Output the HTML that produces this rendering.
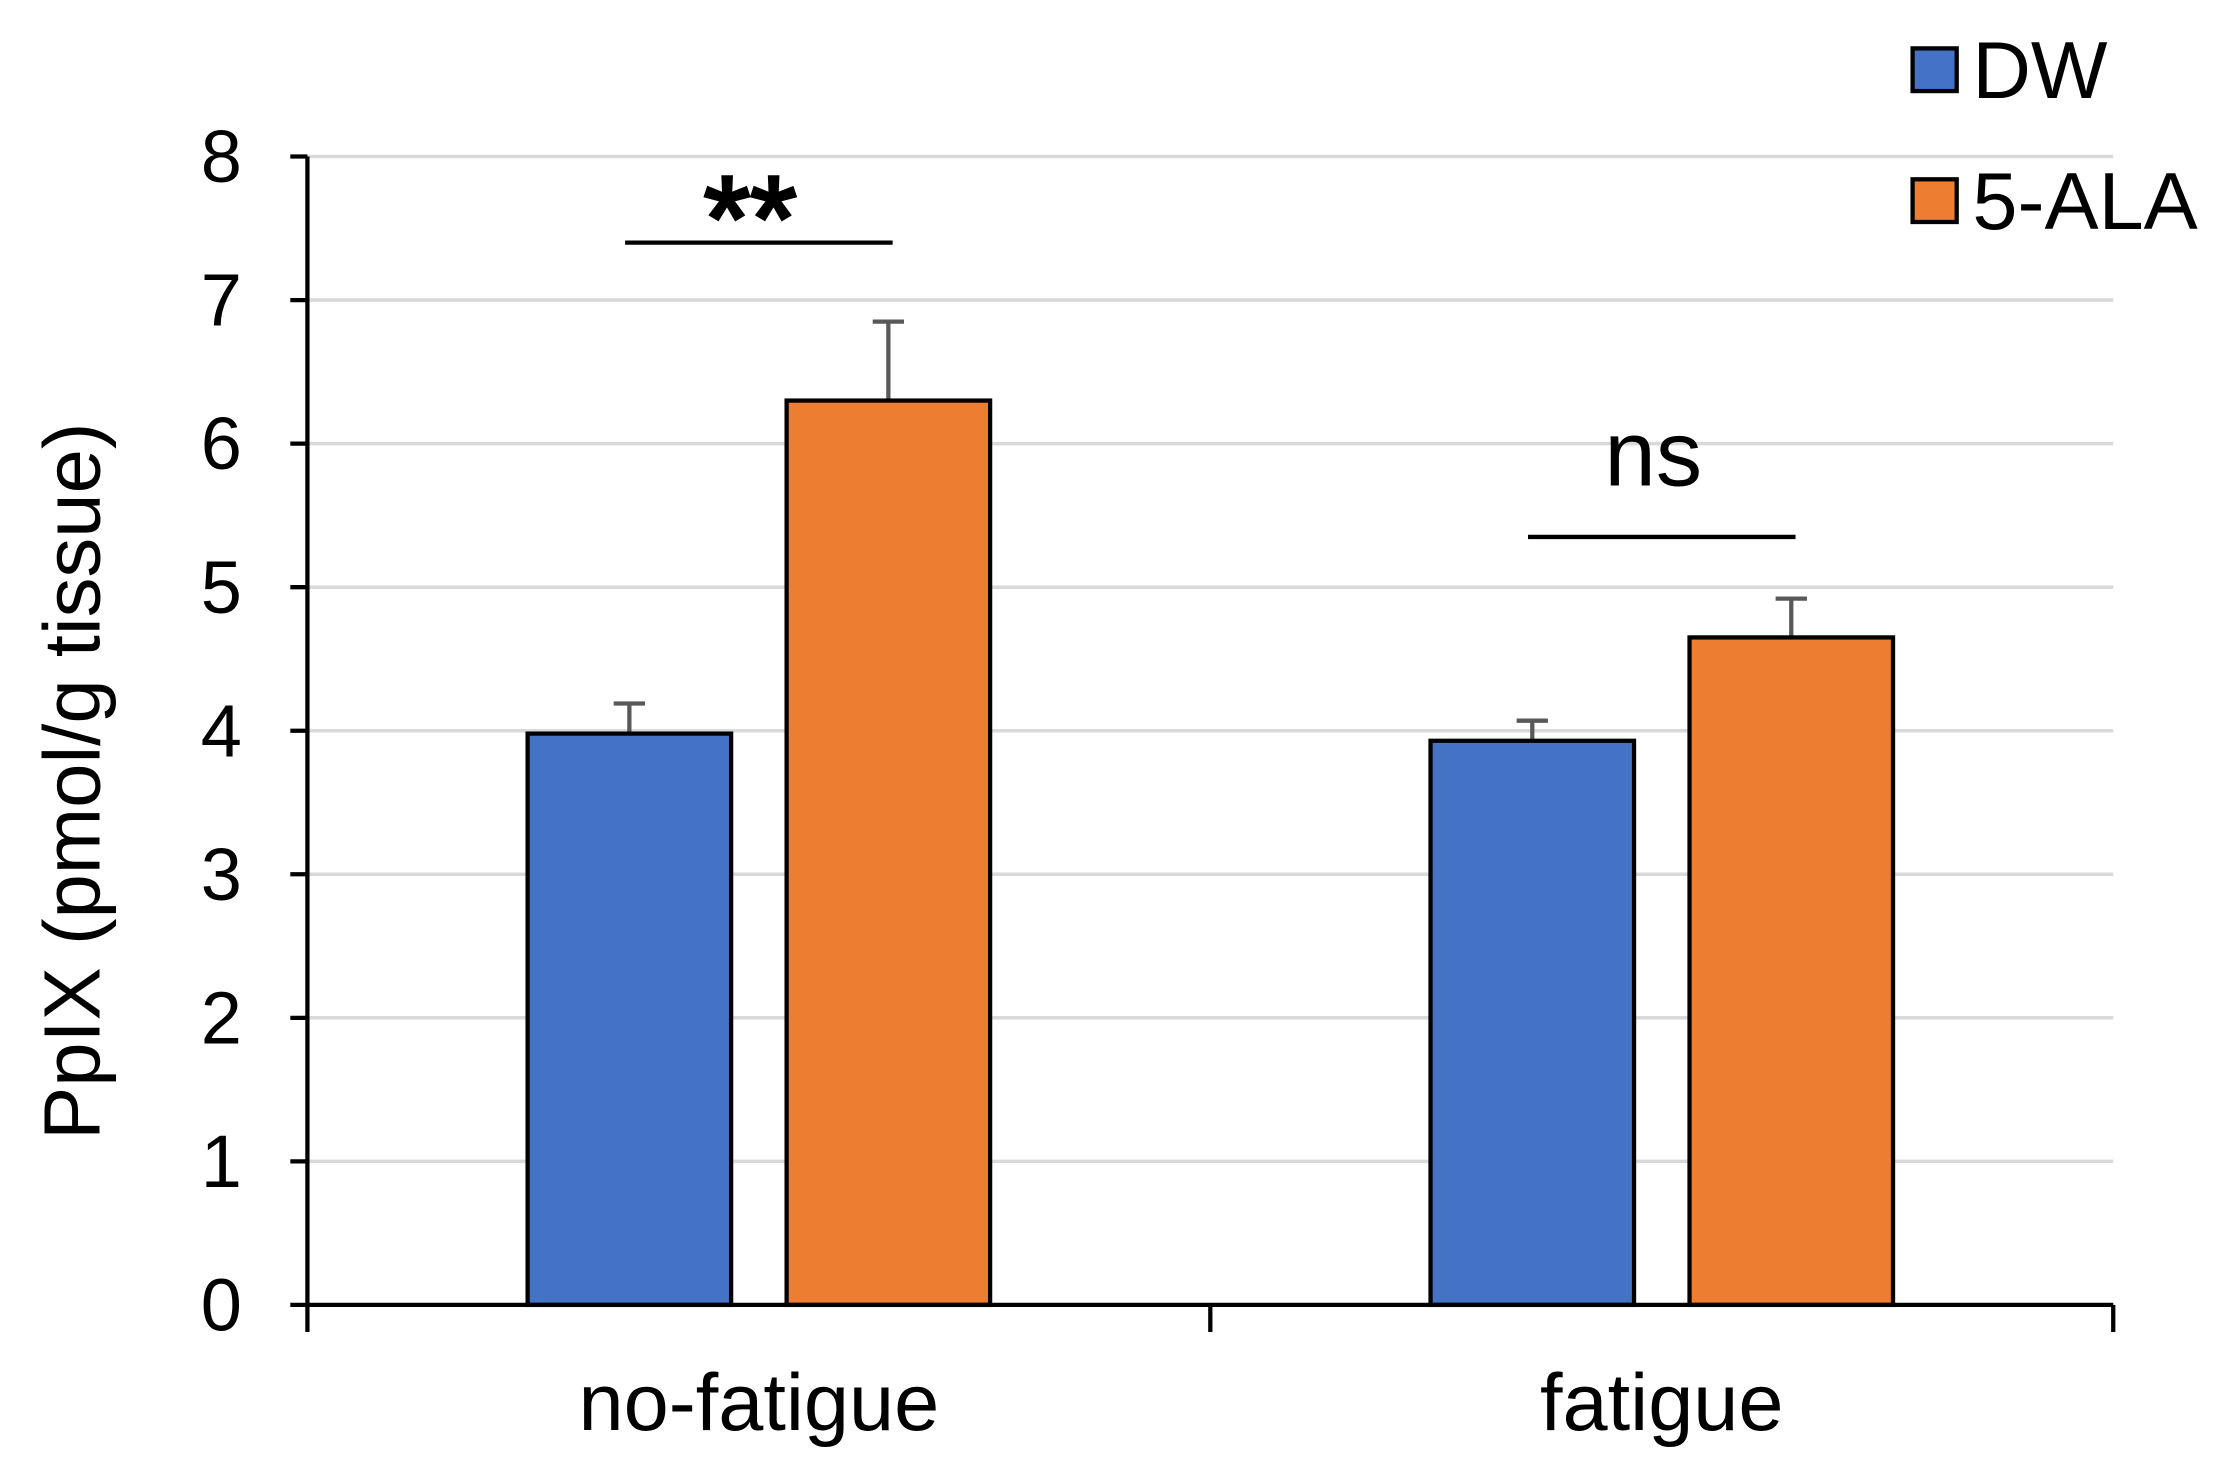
<!DOCTYPE html>
<html><head><meta charset="utf-8"><style>html,body{margin:0;padding:0;background:#fff}svg{display:block}</style></head>
<body>
<svg id="chart" width="2220" height="1468" viewBox="0 0 1560 1031.6" xmlns="http://www.w3.org/2000/svg" font-family="'Liberation Sans', Arial, sans-serif">
<rect width="1560" height="1031.6" fill="#fff"/>
<g id="grid"></g><g id="bars"></g><g id="axes"></g>
</svg>
<script>
const categories = ["no-fatigue", "fatigue"];
const seriesNames = ["DW", "5-ALA"];
const dwValues = [3.98, 3.93];
const dwErrors = [0.21, 0.14];
const alaValues = [6.30, 4.65];
const alaErrors = [0.55, 0.27];
const yTicks = [0,1,2,3,4,5,6,7,8];
const sigLabels = ["**", "ns"];
const sigLevels = [7.4, 5.35];

const NS = "http://www.w3.org/2000/svg";
const x0 = 216, x1 = 1485, yBase = 917, yTop = 110;
const y = v => yBase - (v / 8) * (yBase - yTop);
const catW = (x1 - x0) / categories.length;
const colors = ["#4472C4", "#ED7D31"];
function mk(tag, attrs, parent, text) {
  const e = document.createElementNS(NS, tag);
  for (const k in attrs) e.setAttribute(k, attrs[k]);
  if (text !== undefined) e.textContent = text;
  parent.appendChild(e); return e;
}
const grid = document.getElementById('grid'), bars = document.getElementById('bars'), axes = document.getElementById('axes');
yTicks.forEach(t => {
  if (t > 0) { const g = mk('line', {x1: x0, x2: x1, y1: y(t), y2: y(t), stroke: '#d9d9d9', 'stroke-width': 2.5}, grid);
    
     }
  const tk = mk('line', {x1: x0 - 12, x2: x0, y1: y(t), y2: y(t), stroke: '#000', 'stroke-width': 3}, axes);
  
  
  const lb = mk('text', {x: 170, y: y(t) + 18, 'text-anchor': 'end', 'font-size': 52, fill: '#000'}, axes, String(t));
  
  
});
const series = [[dwValues, dwErrors], [alaValues, alaErrors]];
const barW = 143, gap = 39;
categories.forEach((c, i) => {
  const cx = x0 + catW * (i + 0.5);
  series.forEach((s, j) => {
    const bx = cx - gap / 2 - barW + j * (barW + gap);
    const v = s[0][i], e = s[1][i];
    const eb = mk('line', {x1: bx + barW / 2, x2: bx + barW / 2, y1: y(v), y2: y(v + e), stroke: '#595959', 'stroke-width': 3}, bars);
    
    
    const cap = mk('line', {x1: bx + barW / 2 - 11, x2: bx + barW / 2 + 11, y1: y(v + e), y2: y(v + e), stroke: '#595959', 'stroke-width': 3}, bars);
    
    
    const r = mk('rect', {x: bx, y: y(v), width: barW, height: yBase - y(v), fill: colors[j], stroke: '#000', 'stroke-width': 3}, bars);
    
    
  });
  const sl = mk('line', {x1: cx - 94, x2: cx + 94, y1: y(sigLevels[i]), y2: y(sigLevels[i]), stroke: '#000', 'stroke-width': 3}, axes);
  
  
  const isStar = sigLabels[i] === '**';
  const st = mk('text', {x: cx - 6, y: y(sigLevels[i]) + (isStar ? 12 : -36), 'text-anchor': 'middle', 'font-size': isStar ? 84 : 65, 'stroke': isStar ? '#000' : 'none', 'stroke-width': isStar ? 2.5 : 0}, axes, sigLabels[i]);
  
  
  const xl = mk('text', {x: cx, y: 1005, 'text-anchor': 'middle', 'font-size': 57}, axes, c);
  
  
});
for (let i = 0; i <= categories.length; i++) {
  const xt = mk('line', {x1: x0 + catW * i, x2: x0 + catW * i, y1: yBase, y2: yBase + 19, stroke: '#000', 'stroke-width': 3}, axes);
  
  
}
const ya = mk('line', {x1: x0, x2: x0, y1: yTop, y2: yBase, stroke: '#000', 'stroke-width': 3}, axes);


const xa = mk('line', {x1: x0, x2: x1, y1: yBase, y2: yBase, stroke: '#000', 'stroke-width': 3}, axes);


const yt = mk('text', {x: 0, y: 0, transform: 'translate(70,549) rotate(-90)', 'text-anchor': 'middle', 'font-size': 56}, axes, 'PpIX (pmol/g tissue)');


seriesNames.forEach((n, j) => {
  const sq = mk('rect', {x: 1344, y: 34 + j * 92, width: 31, height: 30, fill: colors[j], stroke: '#000', 'stroke-width': 3}, axes);
  
  
  const lt = mk('text', {x: 1386, y: 69 + j * 92, 'font-size': 57}, axes, n);
  
  
});
</script>
</body></html>
